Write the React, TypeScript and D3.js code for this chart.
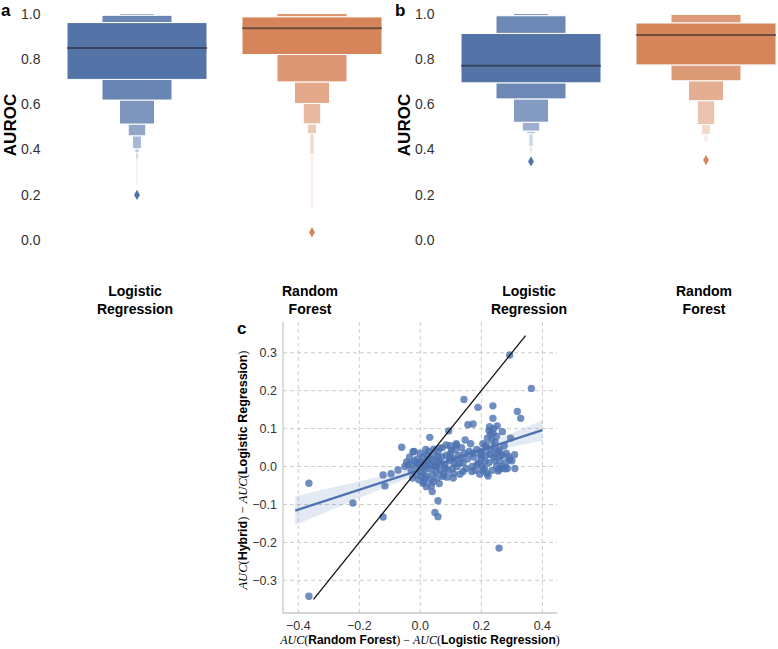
import React from "react";
import * as d3 from "d3";

const W = 778;
const H = 649;

const categories = ["Logistic Regression", "Random Forest"];
const categoryLines = [["Logistic", "Regression"], ["Random", "Forest"]];
const aurocTicks = [0, 0.2, 0.4, 0.6, 0.8, 1.0];

// letter values: index 0 = quartile, then each deeper level
const aLowerLR = [0.709, 0.618, 0.512, 0.46, 0.403, 0.385, 0.36, 0.243];
const aUpperLR = [0.96, 0.992, 1.0, 1.0, 1.0, 1.0, 1.0, 1.0];
const aLowerRF = [0.819, 0.698, 0.603, 0.513, 0.469, 0.379, 0.135];
const aUpperRF = [0.985, 1.0, 1.0, 1.0, 1.0, 1.0, 1.0];
const aMedians = [0.848, 0.935];
const aOutliers = [[0.199], [0.034]];

const bLowerLR = [0.694, 0.623, 0.52, 0.481, 0.469, 0.413, 0.39];
const bUpperLR = [0.912, 0.99, 1.0, 1.0, 1.0, 1.0, 1.0];
const bLowerRF = [0.773, 0.703, 0.615, 0.51, 0.466, 0.434];
const bUpperRF = [0.958, 0.996, 1.0, 1.0, 1.0, 1.0];
const bMedians = [0.769, 0.905];
const bOutliers = [[0.347], [0.353]];

const colors = ["#5474a8", "#d6855b"];

// panel c: AUC(RF) - AUC(LR) vs AUC(Hybrid) - AUC(LR)
const points = [
  [-0.365, -0.044], [-0.365, -0.342], [-0.221, -0.096], [-0.122, -0.133], [-0.122, -0.022],
  [-0.116, -0.051], [-0.096, -0.019], [-0.061, 0.051], [-0.073, -0.009], [-0.051, 0.0],
  [-0.024, 0.039], [0.031, 0.077], [0.093, 0.094], [0.143, 0.177], [0.189, 0.156],
  [0.238, 0.16], [0.238, 0.127], [0.293, 0.294], [0.364, 0.206], [0.318, 0.145],
  [0.329, 0.127], [0.156, 0.11], [0.173, 0.112], [0.147, 0.07], [0.252, 0.107],
  [0.227, 0.105], [0.238, 0.088], [0.269, 0.092], [0.296, 0.075], [0.309, 0.031],
  [0.258, -0.215], [0.048, -0.121], [0.058, -0.132], [0.058, -0.09], [0.036, -0.051],
  [0.039, -0.066], [0.009, -0.044], [0.02, -0.053], [0.109, -0.018], [0.14, -0.013],
  [0.169, -0.013], [0.202, 0.0], [0.222, -0.025], [0.258, -0.007], [0.278, -0.006],
  [0.282, 0.035], [0.293, 0.018], [0.216, 0.057], [0.2, 0.031], [0.085, 0.057],
  [0.102, 0.044], [0.118, 0.057], [0.063, 0.048], [0.129, 0.009], [0.074, -0.026],
  [0.052, 0.0],
  [-0.04, 0.005], [-0.03, -0.01], [-0.02, 0.015], [-0.015, -0.02], [-0.01, 0.02],
  [0.0, 0.0], [0.005, -0.015], [0.01, 0.025], [0.015, 0.005], [0.02, -0.025],
  [0.025, 0.01], [0.03, -0.005], [0.035, 0.02], [0.04, -0.02], [0.045, 0.03],
  [0.05, 0.0], [0.055, -0.03], [0.06, 0.015], [0.065, -0.01], [0.07, 0.025],
  [-0.035, 0.025], [-0.025, -0.03], [-0.005, -0.035], [0.0, 0.035], [0.012, -0.04],
  [0.028, 0.04], [0.042, -0.04], [0.058, 0.04], [0.075, -0.02], [0.08, 0.005],
  [0.085, 0.03], [0.09, -0.01], [0.095, 0.015], [0.1, 0.035], [0.105, -0.005],
  [0.11, 0.02], [0.115, 0.045], [0.12, 0.0], [0.125, 0.03], [0.13, -0.02],
  [0.135, 0.05], [0.14, 0.01], [0.145, 0.035], [0.15, -0.005], [0.155, 0.02],
  [0.16, 0.04], [-0.045, 0.012], [-0.02, 0.04], [0.008, 0.01], [0.018, 0.045],
  [0.033, -0.035], [0.048, 0.012], [0.062, -0.045], [0.072, 0.05], [0.088, -0.028],
  [0.098, 0.055], [0.108, -0.03], [0.118, 0.06], [0.022, 0.03], [-0.008, 0.008],
  [0.003, -0.025],
  [-0.012, 0.0], [0.002, 0.012], [0.014, -0.008], [0.026, 0.018], [0.038, 0.004],
  [0.052, -0.014], [0.068, 0.008], [0.082, -0.004], [0.096, 0.026], [0.044, 0.046],
  [-0.028, 0.006], [0.016, -0.03], [0.058, 0.026], [0.132, 0.022], [0.112, 0.008],
  [0.17, 0.0], [0.175, 0.025], [0.18, -0.01], [0.185, 0.045], [0.19, 0.01],
  [0.195, -0.02], [0.2, 0.02], [0.205, 0.06], [0.21, -0.005], [0.215, 0.03],
  [0.22, 0.075], [0.225, 0.01], [0.23, 0.045], [0.235, -0.01], [0.24, 0.025],
  [0.245, 0.065], [0.25, 0.0], [0.255, 0.04], [0.26, 0.015], [0.265, -0.005],
  [0.27, 0.03], [0.275, 0.055], [0.28, 0.01], [0.285, -0.005], [0.29, 0.025],
  [0.225, 0.095], [0.23, 0.085], [0.24, 0.1], [0.215, 0.05], [0.2, 0.04],
  [0.185, 0.005], [0.25, 0.08], [0.235, 0.07], [0.26, 0.045], [0.3, 0.015],
  [0.31, -0.005], [0.245, 0.015], [0.218, -0.018], [0.255, -0.012], [0.198, 0.03],
  [0.165, 0.06], [0.172, 0.035], [0.205, -0.01], [0.27, 0.0],
  [0.228, 0.032], [0.242, 0.052], [0.262, 0.028], [0.212, 0.014], [0.248, 0.034],
];

const fitX = [-0.41, 0.4];
const fitY = [-0.116, 0.096];
const ciX = [-0.41, -0.3, -0.2, -0.1, 0, 0.1, 0.2, 0.3, 0.4];
const ciLow = [-0.154, -0.117, -0.083, -0.05, -0.019, 0.009, 0.033, 0.052, 0.068];
const ciHigh = [-0.078, -0.057, -0.039, -0.02, 0.001, 0.026, 0.055, 0.088, 0.122];
const identX = [-0.35, 0.345];

const cTicksX = [-0.4, -0.2, 0.0, 0.2, 0.4];
const cTicksY = [-0.3, -0.2, -0.1, 0.0, 0.1, 0.2, 0.3];

const sans = "'Liberation Sans', Arial, sans-serif";
const serif = "'Liberation Serif', serif";

const fmt = (t: number) => t.toFixed(1).replace("-", "\u2212");

function BoxenPanel(props: { letter: string; left: number; groups: any[] }) {
  const { letter, left, groups } = props;
  const y = d3.scaleLinear().domain([0, 1]).range([240, 13.5]);
  const x = d3.scaleBand().domain(categories).range([left + 49.5, left + 399.5])
    .paddingInner(0.2).paddingOuter(0.1);
  const bw = x.bandwidth();
  const diamond = d3.symbol().type(d3.symbolDiamond).size(30)() || "";

  return (
    <g>
      <text x={left + 1} y={16} fontFamily={sans} fontWeight="bold" fontSize={17} fill="#000">{letter}</text>
      <text transform={`translate(${left + 15.5},125) rotate(-90)`} textAnchor="middle"
        fontFamily={sans} fontWeight="bold" fontSize={17} fill="#000">AUROC</text>
      {aurocTicks.map(t => (
        <text key={t} x={left + 40.5} y={y(t) + 5} textAnchor="end"
          fontFamily={sans} fontSize={14} fill="#333">{t.toFixed(1)}</text>
      ))}
      {groups.map((g, gi) => {
        const cx = (x(categories[gi]) || 0) + bw / 2;
        const n = g.lower.length;
        const rects: any[] = [];
        for (let k = n - 1; k >= 0; k--) {
          const w = bw * Math.pow(0.5, k);
          const fill = d3.interpolateRgb(colors[gi], "#ffffff")(0.85 * k / (n - 1));
          const stroke = w > 3 ? "#ffffff" : "none";
          const spans = k === 0
            ? [[g.lower[0], g.upper[0]]]
            : [[g.lower[k], g.lower[k - 1]], [g.upper[k - 1], g.upper[k]]];
          spans.forEach((s, si) => {
            const lo = s[0];
            const hi = s[1];
            if (hi - lo <= 0) return;
            rects.push(
              <rect key={`${k}-${si}`} x={cx - w / 2} width={w} y={y(hi)} height={y(lo) - y(hi)}
                fill={fill} stroke={stroke} strokeWidth={1} />
            );
          });
        }
        return (
          <g key={gi}>
            {rects}
            <line x1={cx - bw / 2} x2={cx + bw / 2} y1={y(g.median)} y2={y(g.median)}
              stroke="#262626" strokeOpacity={0.6} strokeWidth={2} />
            {g.outliers.map((o: number, oi: number) => (
              <path key={oi} d={diamond} transform={`translate(${cx},${y(o)})`} fill={colors[gi]} />
            ))}
            {categoryLines[gi].map((s, li) => (
              <text key={li} x={cx - 2} y={295.5 + li * 18} textAnchor="middle"
                fontFamily={sans} fontWeight="bold" fontSize={14} fill="#000">{s}</text>
            ))}
          </g>
        );
      })}
    </g>
  );
}

function ScatterPanel() {
  const x = d3.scaleLinear().domain([-0.45, 0.448]).range([283, 557]);
  const y = d3.scaleLinear().domain([-0.386, 0.381]).range([613, 322]);
  const line = d3.line().x((d: any) => x(d[0])).y((d: any) => y(d[1]));
  const band = d3.area().x((_: any, i: number) => x(ciX[i])).y0((_: any, i: number) => y(ciLow[i])).y1((_: any, i: number) => y(ciHigh[i]));
  const blue = "#4c72b0";
  const grid = "#cccccc";

  return (
    <g>
      {cTicksX.map(t => (
        <line key={`gx${t}`} x1={x(t)} x2={x(t)} y1={322} y2={613} stroke={grid} strokeDasharray="4,3" strokeWidth={1} />
      ))}
      {cTicksY.map(t => (
        <line key={`gy${t}`} x1={283} x2={557} y1={y(t)} y2={y(t)} stroke={grid} strokeDasharray="4,3" strokeWidth={1} />
      ))}
      <line x1={283} x2={283} y1={322} y2={613.5} stroke="#c8c8c8" strokeWidth={1.3} />
      <line x1={282.5} x2={557} y1={613} y2={613} stroke="#c8c8c8" strokeWidth={1.3} />

      <path d={band(ciX as any) || ""} fill={blue} fillOpacity={0.15} />
      {points.map((p, i) => (
        <circle key={i} cx={x(p[0])} cy={y(p[1])} r={3.7} fill={blue} fillOpacity={0.8} />
      ))}
      <path d={line([[fitX[0], fitY[0]], [fitX[1], fitY[1]]] as any) || ""} stroke={blue} strokeWidth={2.4} fill="none" />
      <path d={line([[identX[0], identX[0]], [identX[1], identX[1]]] as any) || ""} stroke="#111" strokeWidth={1.3} fill="none" />

      {cTicksX.map(t => (
        <text key={`tx${t}`} x={x(t)} y={630} textAnchor="middle" fontFamily={sans} fontSize={12.5} fill="#333">{fmt(t)}</text>
      ))}
      {cTicksY.map(t => (
        <text key={`ty${t}`} x={277} y={y(t) + 4.5} textAnchor="end" fontFamily={sans} fontSize={12.5} fill="#333">{fmt(t)}</text>
      ))}

      <text x={237} y={334} fontFamily={sans} fontWeight="bold" fontSize={17} fill="#000">c</text>

      <text x={420} y={644} textAnchor="middle" fontSize={12} fill="#000">
        <tspan fontFamily={serif} fontStyle="italic">AUC</tspan>
        <tspan fontFamily={serif}>(</tspan>
        <tspan fontFamily={sans} fontWeight="bold">Random Forest</tspan>
        <tspan fontFamily={serif}>{") \u2212 "}</tspan>
        <tspan fontFamily={serif} fontStyle="italic">AUC</tspan>
        <tspan fontFamily={serif}>(</tspan>
        <tspan fontFamily={sans} fontWeight="bold">Logistic Regression</tspan>
        <tspan fontFamily={serif}>)</tspan>
      </text>
      <text transform="translate(247,470) rotate(-90)" textAnchor="middle" fontSize={12.5} fill="#000">
        <tspan fontFamily={serif} fontStyle="italic">AUC</tspan>
        <tspan fontFamily={serif}>(</tspan>
        <tspan fontFamily={sans} fontWeight="bold">Hybrid</tspan>
        <tspan fontFamily={serif}>{") \u2212 "}</tspan>
        <tspan fontFamily={serif} fontStyle="italic">AUC</tspan>
        <tspan fontFamily={serif}>(</tspan>
        <tspan fontFamily={sans} fontWeight="bold">Logistic Regression</tspan>
        <tspan fontFamily={serif}>)</tspan>
      </text>
    </g>
  );
}

export default function App() {
  const aGroups = [
    { lower: aLowerLR, upper: aUpperLR, median: aMedians[0], outliers: aOutliers[0] },
    { lower: aLowerRF, upper: aUpperRF, median: aMedians[1], outliers: aOutliers[1] },
  ];
  const bGroups = [
    { lower: bLowerLR, upper: bUpperLR, median: bMedians[0], outliers: bOutliers[0] },
    { lower: bLowerRF, upper: bUpperRF, median: bMedians[1], outliers: bOutliers[1] },
  ];
  return (
    <svg width={W} height={H} style={{ position: "absolute", left: 0, top: 0 }}>
      <rect width={W} height={H} fill="#fff" />
      <BoxenPanel letter="a" left={0} groups={aGroups} />
      <BoxenPanel letter="b" left={394} groups={bGroups} />
      <ScatterPanel />
    </svg>
  );
}
